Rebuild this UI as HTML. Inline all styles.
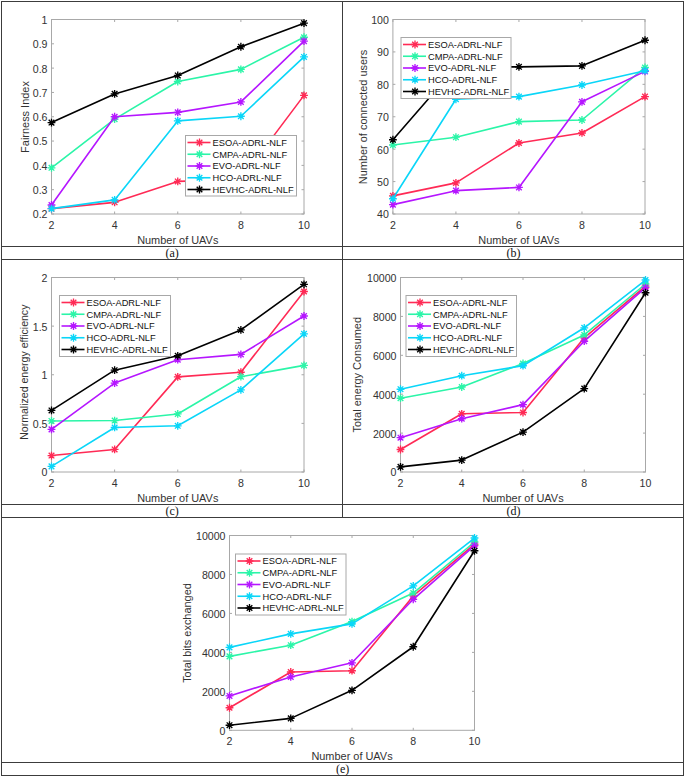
<!DOCTYPE html>
<html><head><meta charset="utf-8"><title>Figure</title>
<style>
html,body{margin:0;padding:0;background:#fff;}
body{width:685px;height:777px;overflow:hidden;}
svg{display:block;}
svg text{font-family:"Liberation Sans",sans-serif;}
</style></head><body>
<svg width="685" height="777" viewBox="0 0 685 777">
<path d="M1 1.5H684" stroke="#3c3c3c" stroke-width="1"/>
<path d="M1 246.5H684" stroke="#3c3c3c" stroke-width="1"/>
<path d="M1 259.5H684" stroke="#3c3c3c" stroke-width="1"/>
<path d="M1 504.5H684" stroke="#3c3c3c" stroke-width="1"/>
<path d="M1 517.5H684" stroke="#3c3c3c" stroke-width="1"/>
<path d="M1 762.5H684" stroke="#3c3c3c" stroke-width="1"/>
<path d="M1 775.5H684" stroke="#3c3c3c" stroke-width="1"/>
<path d="M1.5 1V776" stroke="#3c3c3c" stroke-width="1"/>
<path d="M683.5 1V776" stroke="#3c3c3c" stroke-width="1"/>
<path d="M342.5 1V517.5" stroke="#3c3c3c" stroke-width="1"/>
<text x="172.1" y="256.9" text-anchor="middle" style="font-family:'Liberation Serif',serif" font-size="12" fill="#111">(a)</text>
<text x="513.4" y="256.9" text-anchor="middle" style="font-family:'Liberation Serif',serif" font-size="12" fill="#111">(b)</text>
<text x="172.1" y="514.9" text-anchor="middle" style="font-family:'Liberation Serif',serif" font-size="12" fill="#111">(c)</text>
<text x="513.4" y="514.9" text-anchor="middle" style="font-family:'Liberation Serif',serif" font-size="12" fill="#111">(d)</text>
<text x="342.6" y="772.9" text-anchor="middle" style="font-family:'Liberation Serif',serif" font-size="12" fill="#111">(e)</text>
<rect x="51.5" y="19.5" width="252.5" height="194.5" fill="none" stroke="#a8a8a8" stroke-width="1"/>
<path d="M51.5 214v-2.5M51.5 19.5v2.5" stroke="#a8a8a8" stroke-width="1"/>
<text x="51.5" y="229" text-anchor="middle" font-size="10.6" fill="#333333">2</text>
<path d="M114.62 214v-2.5M114.62 19.5v2.5" stroke="#a8a8a8" stroke-width="1"/>
<text x="114.62" y="229" text-anchor="middle" font-size="10.6" fill="#333333">4</text>
<path d="M177.75 214v-2.5M177.75 19.5v2.5" stroke="#a8a8a8" stroke-width="1"/>
<text x="177.75" y="229" text-anchor="middle" font-size="10.6" fill="#333333">6</text>
<path d="M240.88 214v-2.5M240.88 19.5v2.5" stroke="#a8a8a8" stroke-width="1"/>
<text x="240.88" y="229" text-anchor="middle" font-size="10.6" fill="#333333">8</text>
<path d="M304 214v-2.5M304 19.5v2.5" stroke="#a8a8a8" stroke-width="1"/>
<text x="304" y="229" text-anchor="middle" font-size="10.6" fill="#333333">10</text>
<path d="M51.5 214h2.5M304 214h-2.5" stroke="#a8a8a8" stroke-width="1"/>
<text x="47.5" y="218.4" text-anchor="end" font-size="10.6" fill="#333333">0.2</text>
<path d="M51.5 189.69h2.5M304 189.69h-2.5" stroke="#a8a8a8" stroke-width="1"/>
<text x="47.5" y="194.09" text-anchor="end" font-size="10.6" fill="#333333">0.3</text>
<path d="M51.5 165.38h2.5M304 165.38h-2.5" stroke="#a8a8a8" stroke-width="1"/>
<text x="47.5" y="169.78" text-anchor="end" font-size="10.6" fill="#333333">0.4</text>
<path d="M51.5 141.06h2.5M304 141.06h-2.5" stroke="#a8a8a8" stroke-width="1"/>
<text x="47.5" y="145.46" text-anchor="end" font-size="10.6" fill="#333333">0.5</text>
<path d="M51.5 116.75h2.5M304 116.75h-2.5" stroke="#a8a8a8" stroke-width="1"/>
<text x="47.5" y="121.15" text-anchor="end" font-size="10.6" fill="#333333">0.6</text>
<path d="M51.5 92.44h2.5M304 92.44h-2.5" stroke="#a8a8a8" stroke-width="1"/>
<text x="47.5" y="96.84" text-anchor="end" font-size="10.6" fill="#333333">0.7</text>
<path d="M51.5 68.12h2.5M304 68.12h-2.5" stroke="#a8a8a8" stroke-width="1"/>
<text x="47.5" y="72.52" text-anchor="end" font-size="10.6" fill="#333333">0.8</text>
<path d="M51.5 43.81h2.5M304 43.81h-2.5" stroke="#a8a8a8" stroke-width="1"/>
<text x="47.5" y="48.21" text-anchor="end" font-size="10.6" fill="#333333">0.9</text>
<path d="M51.5 19.5h2.5M304 19.5h-2.5" stroke="#a8a8a8" stroke-width="1"/>
<text x="47.5" y="23.9" text-anchor="end" font-size="10.6" fill="#333333">1</text>
<text x="177.75" y="243.5" text-anchor="middle" font-size="10.95" fill="#333333">Number of UAVs</text>
<text transform="translate(28.5 117) rotate(-90)" text-anchor="middle" font-size="10.95" fill="#333333">Fairness Index</text>
<polyline points="51.5,208.65 114.62,202.33 177.75,181.42 240.88,179.48 304,95.36" fill="none" stroke="#ff2a55" stroke-width="1.6" stroke-linejoin="round"/>
<path d="M47.6 208.65h7.8M51.5 204.75v7.8M48.69 205.84l5.62 5.62M48.69 211.46l5.62 -5.62" stroke="#ff2a55" stroke-width="1.35" fill="none"/>
<path d="M110.72 202.33h7.8M114.62 198.43v7.8M111.82 199.52l5.62 5.62M111.82 205.14l5.62 -5.62" stroke="#ff2a55" stroke-width="1.35" fill="none"/>
<path d="M173.85 181.42h7.8M177.75 177.52v7.8M174.94 178.61l5.62 5.62M174.94 184.23l5.62 -5.62" stroke="#ff2a55" stroke-width="1.35" fill="none"/>
<path d="M236.97 179.48h7.8M240.88 175.58v7.8M238.07 176.67l5.62 5.62M238.07 182.28l5.62 -5.62" stroke="#ff2a55" stroke-width="1.35" fill="none"/>
<path d="M300.1 95.36h7.8M304 91.46v7.8M301.19 92.55l5.62 5.62M301.19 98.16l5.62 -5.62" stroke="#ff2a55" stroke-width="1.35" fill="none"/>
<polyline points="51.5,167.81 114.62,119.18 177.75,81.5 240.88,69.34 304,37.25" fill="none" stroke="#2bf5a8" stroke-width="1.6" stroke-linejoin="round"/>
<path d="M47.6 167.81h7.8M51.5 163.91v7.8M48.69 165l5.62 5.62M48.69 170.61l5.62 -5.62" stroke="#2bf5a8" stroke-width="1.35" fill="none"/>
<path d="M110.72 119.18h7.8M114.62 115.28v7.8M111.82 116.37l5.62 5.62M111.82 121.99l5.62 -5.62" stroke="#2bf5a8" stroke-width="1.35" fill="none"/>
<path d="M173.85 81.5h7.8M177.75 77.6v7.8M174.94 78.69l5.62 5.62M174.94 84.3l5.62 -5.62" stroke="#2bf5a8" stroke-width="1.35" fill="none"/>
<path d="M236.97 69.34h7.8M240.88 65.44v7.8M238.07 66.53l5.62 5.62M238.07 72.15l5.62 -5.62" stroke="#2bf5a8" stroke-width="1.35" fill="none"/>
<path d="M300.1 37.25h7.8M304 33.35v7.8M301.19 34.44l5.62 5.62M301.19 40.06l5.62 -5.62" stroke="#2bf5a8" stroke-width="1.35" fill="none"/>
<polyline points="51.5,205 114.62,116.75 177.75,112.37 240.88,101.92 304,41.14" fill="none" stroke="#b516ff" stroke-width="1.6" stroke-linejoin="round"/>
<path d="M47.6 205h7.8M51.5 201.1v7.8M48.69 202.2l5.62 5.62M48.69 207.81l5.62 -5.62" stroke="#b516ff" stroke-width="1.35" fill="none"/>
<path d="M110.72 116.75h7.8M114.62 112.85v7.8M111.82 113.94l5.62 5.62M111.82 119.56l5.62 -5.62" stroke="#b516ff" stroke-width="1.35" fill="none"/>
<path d="M173.85 112.37h7.8M177.75 108.47v7.8M174.94 109.57l5.62 5.62M174.94 115.18l5.62 -5.62" stroke="#b516ff" stroke-width="1.35" fill="none"/>
<path d="M236.97 101.92h7.8M240.88 98.02v7.8M238.07 99.11l5.62 5.62M238.07 104.73l5.62 -5.62" stroke="#b516ff" stroke-width="1.35" fill="none"/>
<path d="M300.1 41.14h7.8M304 37.24v7.8M301.19 38.33l5.62 5.62M301.19 43.95l5.62 -5.62" stroke="#b516ff" stroke-width="1.35" fill="none"/>
<polyline points="51.5,208.65 114.62,199.9 177.75,120.88 240.88,116.26 304,56.94" fill="none" stroke="#0ad6f8" stroke-width="1.6" stroke-linejoin="round"/>
<path d="M47.6 208.65h7.8M51.5 204.75v7.8M48.69 205.84l5.62 5.62M48.69 211.46l5.62 -5.62" stroke="#0ad6f8" stroke-width="1.35" fill="none"/>
<path d="M110.72 199.9h7.8M114.62 196v7.8M111.82 197.09l5.62 5.62M111.82 202.71l5.62 -5.62" stroke="#0ad6f8" stroke-width="1.35" fill="none"/>
<path d="M173.85 120.88h7.8M177.75 116.98v7.8M174.94 118.08l5.62 5.62M174.94 123.69l5.62 -5.62" stroke="#0ad6f8" stroke-width="1.35" fill="none"/>
<path d="M236.97 116.26h7.8M240.88 112.36v7.8M238.07 113.46l5.62 5.62M238.07 119.07l5.62 -5.62" stroke="#0ad6f8" stroke-width="1.35" fill="none"/>
<path d="M300.1 56.94h7.8M304 53.04v7.8M301.19 54.13l5.62 5.62M301.19 59.75l5.62 -5.62" stroke="#0ad6f8" stroke-width="1.35" fill="none"/>
<polyline points="51.5,122.59 114.62,93.9 177.75,75.42 240.88,46.73 304,23.15" fill="none" stroke="#000000" stroke-width="1.6" stroke-linejoin="round"/>
<path d="M47.6 122.59h7.8M51.5 118.69v7.8M48.69 119.78l5.62 5.62M48.69 125.39l5.62 -5.62" stroke="#000000" stroke-width="1.35" fill="none"/>
<path d="M110.72 93.9h7.8M114.62 90v7.8M111.82 91.09l5.62 5.62M111.82 96.7l5.62 -5.62" stroke="#000000" stroke-width="1.35" fill="none"/>
<path d="M173.85 75.42h7.8M177.75 71.52v7.8M174.94 72.61l5.62 5.62M174.94 78.23l5.62 -5.62" stroke="#000000" stroke-width="1.35" fill="none"/>
<path d="M236.97 46.73h7.8M240.88 42.83v7.8M238.07 43.92l5.62 5.62M238.07 49.54l5.62 -5.62" stroke="#000000" stroke-width="1.35" fill="none"/>
<path d="M300.1 23.15h7.8M304 19.25v7.8M301.19 20.34l5.62 5.62M301.19 25.95l5.62 -5.62" stroke="#000000" stroke-width="1.35" fill="none"/>
<rect x="185.5" y="135.5" width="111" height="60.5" fill="#fff" stroke="#a8a8a8" stroke-width="1"/>
<path d="M187.5 142.5h23.0" stroke="#ff2a55" stroke-width="1.6"/>
<path d="M195.6 142.5h7.8M199.5 138.6v7.8M196.69 139.69l5.62 5.62M196.69 145.31l5.62 -5.62" stroke="#ff2a55" stroke-width="1.35" fill="none"/>
<text x="212.5" y="145.9" font-size="9.3" fill="#111">ESOA-ADRL-NLF</text>
<path d="M187.5 154.25h23.0" stroke="#2bf5a8" stroke-width="1.6"/>
<path d="M195.6 154.25h7.8M199.5 150.35v7.8M196.69 151.44l5.62 5.62M196.69 157.06l5.62 -5.62" stroke="#2bf5a8" stroke-width="1.35" fill="none"/>
<text x="212.5" y="157.65" font-size="9.3" fill="#111">CMPA-ADRL-NLF</text>
<path d="M187.5 166h23.0" stroke="#b516ff" stroke-width="1.6"/>
<path d="M195.6 166h7.8M199.5 162.1v7.8M196.69 163.19l5.62 5.62M196.69 168.81l5.62 -5.62" stroke="#b516ff" stroke-width="1.35" fill="none"/>
<text x="212.5" y="169.4" font-size="9.3" fill="#111">EVO-ADRL-NLF</text>
<path d="M187.5 177.75h23.0" stroke="#0ad6f8" stroke-width="1.6"/>
<path d="M195.6 177.75h7.8M199.5 173.85v7.8M196.69 174.94l5.62 5.62M196.69 180.56l5.62 -5.62" stroke="#0ad6f8" stroke-width="1.35" fill="none"/>
<text x="212.5" y="181.15" font-size="9.3" fill="#111">HCO-ADRL-NLF</text>
<path d="M187.5 189.5h23.0" stroke="#000000" stroke-width="1.6"/>
<path d="M195.6 189.5h7.8M199.5 185.6v7.8M196.69 186.69l5.62 5.62M196.69 192.31l5.62 -5.62" stroke="#000000" stroke-width="1.35" fill="none"/>
<text x="212.5" y="192.9" font-size="9.3" fill="#111">HEVHC-ADRL-NLF</text>
<rect x="392.9" y="19.5" width="252.1" height="194.5" fill="none" stroke="#a8a8a8" stroke-width="1"/>
<path d="M392.9 214v-2.5M392.9 19.5v2.5" stroke="#a8a8a8" stroke-width="1"/>
<text x="392.9" y="229" text-anchor="middle" font-size="10.6" fill="#333333">2</text>
<path d="M455.92 214v-2.5M455.92 19.5v2.5" stroke="#a8a8a8" stroke-width="1"/>
<text x="455.92" y="229" text-anchor="middle" font-size="10.6" fill="#333333">4</text>
<path d="M518.95 214v-2.5M518.95 19.5v2.5" stroke="#a8a8a8" stroke-width="1"/>
<text x="518.95" y="229" text-anchor="middle" font-size="10.6" fill="#333333">6</text>
<path d="M581.98 214v-2.5M581.98 19.5v2.5" stroke="#a8a8a8" stroke-width="1"/>
<text x="581.98" y="229" text-anchor="middle" font-size="10.6" fill="#333333">8</text>
<path d="M645 214v-2.5M645 19.5v2.5" stroke="#a8a8a8" stroke-width="1"/>
<text x="645" y="229" text-anchor="middle" font-size="10.6" fill="#333333">10</text>
<path d="M392.9 214h2.5M645 214h-2.5" stroke="#a8a8a8" stroke-width="1"/>
<text x="388.9" y="218.4" text-anchor="end" font-size="10.6" fill="#333333">40</text>
<path d="M392.9 181.58h2.5M645 181.58h-2.5" stroke="#a8a8a8" stroke-width="1"/>
<text x="388.9" y="185.98" text-anchor="end" font-size="10.6" fill="#333333">50</text>
<path d="M392.9 149.17h2.5M645 149.17h-2.5" stroke="#a8a8a8" stroke-width="1"/>
<text x="388.9" y="153.57" text-anchor="end" font-size="10.6" fill="#333333">60</text>
<path d="M392.9 116.75h2.5M645 116.75h-2.5" stroke="#a8a8a8" stroke-width="1"/>
<text x="388.9" y="121.15" text-anchor="end" font-size="10.6" fill="#333333">70</text>
<path d="M392.9 84.33h2.5M645 84.33h-2.5" stroke="#a8a8a8" stroke-width="1"/>
<text x="388.9" y="88.73" text-anchor="end" font-size="10.6" fill="#333333">80</text>
<path d="M392.9 51.92h2.5M645 51.92h-2.5" stroke="#a8a8a8" stroke-width="1"/>
<text x="388.9" y="56.32" text-anchor="end" font-size="10.6" fill="#333333">90</text>
<path d="M392.9 19.5h2.5M645 19.5h-2.5" stroke="#a8a8a8" stroke-width="1"/>
<text x="388.9" y="23.9" text-anchor="end" font-size="10.6" fill="#333333">100</text>
<text x="518.95" y="243.5" text-anchor="middle" font-size="10.95" fill="#333333">Number of UAVs</text>
<text transform="translate(366.8 117) rotate(-90)" text-anchor="middle" font-size="10.95" fill="#333333">Number of connected users</text>
<polyline points="392.9,195.85 455.92,182.88 518.95,143.01 581.98,132.96 645,96.65" fill="none" stroke="#ff2a55" stroke-width="1.6" stroke-linejoin="round"/>
<path d="M389 195.85h7.8M392.9 191.95v7.8M390.09 193.04l5.62 5.62M390.09 198.65l5.62 -5.62" stroke="#ff2a55" stroke-width="1.35" fill="none"/>
<path d="M452.02 182.88h7.8M455.92 178.98v7.8M453.12 180.07l5.62 5.62M453.12 185.69l5.62 -5.62" stroke="#ff2a55" stroke-width="1.35" fill="none"/>
<path d="M515.05 143.01h7.8M518.95 139.11v7.8M516.14 140.2l5.62 5.62M516.14 145.82l5.62 -5.62" stroke="#ff2a55" stroke-width="1.35" fill="none"/>
<path d="M578.08 132.96h7.8M581.98 129.06v7.8M579.17 130.15l5.62 5.62M579.17 135.77l5.62 -5.62" stroke="#ff2a55" stroke-width="1.35" fill="none"/>
<path d="M641.1 96.65h7.8M645 92.75v7.8M642.19 93.84l5.62 5.62M642.19 99.46l5.62 -5.62" stroke="#ff2a55" stroke-width="1.35" fill="none"/>
<polyline points="392.9,144.95 455.92,137.17 518.95,121.61 581.98,119.99 645,67.48" fill="none" stroke="#2bf5a8" stroke-width="1.6" stroke-linejoin="round"/>
<path d="M389 144.95h7.8M392.9 141.05v7.8M390.09 142.14l5.62 5.62M390.09 147.76l5.62 -5.62" stroke="#2bf5a8" stroke-width="1.35" fill="none"/>
<path d="M452.02 137.17h7.8M455.92 133.27v7.8M453.12 134.36l5.62 5.62M453.12 139.98l5.62 -5.62" stroke="#2bf5a8" stroke-width="1.35" fill="none"/>
<path d="M515.05 121.61h7.8M518.95 117.71v7.8M516.14 118.8l5.62 5.62M516.14 124.42l5.62 -5.62" stroke="#2bf5a8" stroke-width="1.35" fill="none"/>
<path d="M578.08 119.99h7.8M581.98 116.09v7.8M579.17 117.18l5.62 5.62M579.17 122.8l5.62 -5.62" stroke="#2bf5a8" stroke-width="1.35" fill="none"/>
<path d="M641.1 67.48h7.8M645 63.58v7.8M642.19 64.67l5.62 5.62M642.19 70.28l5.62 -5.62" stroke="#2bf5a8" stroke-width="1.35" fill="none"/>
<polyline points="392.9,204.6 455.92,190.66 518.95,187.42 581.98,101.84 645,71.37" fill="none" stroke="#b516ff" stroke-width="1.6" stroke-linejoin="round"/>
<path d="M389 204.6h7.8M392.9 200.7v7.8M390.09 201.79l5.62 5.62M390.09 207.41l5.62 -5.62" stroke="#b516ff" stroke-width="1.35" fill="none"/>
<path d="M452.02 190.66h7.8M455.92 186.76v7.8M453.12 187.85l5.62 5.62M453.12 193.47l5.62 -5.62" stroke="#b516ff" stroke-width="1.35" fill="none"/>
<path d="M515.05 187.42h7.8M518.95 183.52v7.8M516.14 184.61l5.62 5.62M516.14 190.23l5.62 -5.62" stroke="#b516ff" stroke-width="1.35" fill="none"/>
<path d="M578.08 101.84h7.8M581.98 97.94v7.8M579.17 99.03l5.62 5.62M579.17 104.65l5.62 -5.62" stroke="#b516ff" stroke-width="1.35" fill="none"/>
<path d="M641.1 71.37h7.8M645 67.47v7.8M642.19 68.56l5.62 5.62M642.19 74.17l5.62 -5.62" stroke="#b516ff" stroke-width="1.35" fill="none"/>
<polyline points="392.9,198.76 455.92,99.24 518.95,96.65 581.98,84.98 645,70.72" fill="none" stroke="#0ad6f8" stroke-width="1.6" stroke-linejoin="round"/>
<path d="M389 198.76h7.8M392.9 194.86v7.8M390.09 195.96l5.62 5.62M390.09 201.57l5.62 -5.62" stroke="#0ad6f8" stroke-width="1.35" fill="none"/>
<path d="M452.02 99.24h7.8M455.92 95.34v7.8M453.12 96.44l5.62 5.62M453.12 102.05l5.62 -5.62" stroke="#0ad6f8" stroke-width="1.35" fill="none"/>
<path d="M515.05 96.65h7.8M518.95 92.75v7.8M516.14 93.84l5.62 5.62M516.14 99.46l5.62 -5.62" stroke="#0ad6f8" stroke-width="1.35" fill="none"/>
<path d="M578.08 84.98h7.8M581.98 81.08v7.8M579.17 82.17l5.62 5.62M579.17 87.79l5.62 -5.62" stroke="#0ad6f8" stroke-width="1.35" fill="none"/>
<path d="M641.1 70.72h7.8M645 66.82v7.8M642.19 67.91l5.62 5.62M642.19 73.53l5.62 -5.62" stroke="#0ad6f8" stroke-width="1.35" fill="none"/>
<polyline points="392.9,139.77 455.92,67.15 518.95,66.83 581.98,65.86 645,40.25" fill="none" stroke="#000000" stroke-width="1.6" stroke-linejoin="round"/>
<path d="M389 139.77h7.8M392.9 135.87v7.8M390.09 136.96l5.62 5.62M390.09 142.57l5.62 -5.62" stroke="#000000" stroke-width="1.35" fill="none"/>
<path d="M452.02 67.15h7.8M455.92 63.25v7.8M453.12 64.34l5.62 5.62M453.12 69.96l5.62 -5.62" stroke="#000000" stroke-width="1.35" fill="none"/>
<path d="M515.05 66.83h7.8M518.95 62.93v7.8M516.14 64.02l5.62 5.62M516.14 69.64l5.62 -5.62" stroke="#000000" stroke-width="1.35" fill="none"/>
<path d="M578.08 65.86h7.8M581.98 61.96v7.8M579.17 63.05l5.62 5.62M579.17 68.66l5.62 -5.62" stroke="#000000" stroke-width="1.35" fill="none"/>
<path d="M641.1 40.25h7.8M645 36.35v7.8M642.19 37.44l5.62 5.62M642.19 43.05l5.62 -5.62" stroke="#000000" stroke-width="1.35" fill="none"/>
<rect x="401" y="37.5" width="110" height="61" fill="#fff" stroke="#a8a8a8" stroke-width="1"/>
<path d="M403 44.5h23.0" stroke="#ff2a55" stroke-width="1.6"/>
<path d="M411.1 44.5h7.8M415 40.6v7.8M412.19 41.69l5.62 5.62M412.19 47.31l5.62 -5.62" stroke="#ff2a55" stroke-width="1.35" fill="none"/>
<text x="428" y="47.9" font-size="9.3" fill="#111">ESOA-ADRL-NLF</text>
<path d="M403 56.25h23.0" stroke="#2bf5a8" stroke-width="1.6"/>
<path d="M411.1 56.25h7.8M415 52.35v7.8M412.19 53.44l5.62 5.62M412.19 59.06l5.62 -5.62" stroke="#2bf5a8" stroke-width="1.35" fill="none"/>
<text x="428" y="59.65" font-size="9.3" fill="#111">CMPA-ADRL-NLF</text>
<path d="M403 68h23.0" stroke="#b516ff" stroke-width="1.6"/>
<path d="M411.1 68h7.8M415 64.1v7.8M412.19 65.19l5.62 5.62M412.19 70.81l5.62 -5.62" stroke="#b516ff" stroke-width="1.35" fill="none"/>
<text x="428" y="71.4" font-size="9.3" fill="#111">EVO-ADRL-NLF</text>
<path d="M403 79.75h23.0" stroke="#0ad6f8" stroke-width="1.6"/>
<path d="M411.1 79.75h7.8M415 75.85v7.8M412.19 76.94l5.62 5.62M412.19 82.56l5.62 -5.62" stroke="#0ad6f8" stroke-width="1.35" fill="none"/>
<text x="428" y="83.15" font-size="9.3" fill="#111">HCO-ADRL-NLF</text>
<path d="M403 91.5h23.0" stroke="#000000" stroke-width="1.6"/>
<path d="M411.1 91.5h7.8M415 87.6v7.8M412.19 88.69l5.62 5.62M412.19 94.31l5.62 -5.62" stroke="#000000" stroke-width="1.35" fill="none"/>
<text x="428" y="94.9" font-size="9.3" fill="#111">HEVHC-ADRL-NLF</text>
<rect x="51.5" y="277.5" width="252.5" height="194.5" fill="none" stroke="#a8a8a8" stroke-width="1"/>
<path d="M51.5 472v-2.5M51.5 277.5v2.5" stroke="#a8a8a8" stroke-width="1"/>
<text x="51.5" y="487" text-anchor="middle" font-size="10.6" fill="#333333">2</text>
<path d="M114.62 472v-2.5M114.62 277.5v2.5" stroke="#a8a8a8" stroke-width="1"/>
<text x="114.62" y="487" text-anchor="middle" font-size="10.6" fill="#333333">4</text>
<path d="M177.75 472v-2.5M177.75 277.5v2.5" stroke="#a8a8a8" stroke-width="1"/>
<text x="177.75" y="487" text-anchor="middle" font-size="10.6" fill="#333333">6</text>
<path d="M240.88 472v-2.5M240.88 277.5v2.5" stroke="#a8a8a8" stroke-width="1"/>
<text x="240.88" y="487" text-anchor="middle" font-size="10.6" fill="#333333">8</text>
<path d="M304 472v-2.5M304 277.5v2.5" stroke="#a8a8a8" stroke-width="1"/>
<text x="304" y="487" text-anchor="middle" font-size="10.6" fill="#333333">10</text>
<path d="M51.5 472h2.5M304 472h-2.5" stroke="#a8a8a8" stroke-width="1"/>
<text x="47.5" y="476.4" text-anchor="end" font-size="10.6" fill="#333333">0</text>
<path d="M51.5 423.38h2.5M304 423.38h-2.5" stroke="#a8a8a8" stroke-width="1"/>
<text x="47.5" y="427.77" text-anchor="end" font-size="10.6" fill="#333333">0.5</text>
<path d="M51.5 374.75h2.5M304 374.75h-2.5" stroke="#a8a8a8" stroke-width="1"/>
<text x="47.5" y="379.15" text-anchor="end" font-size="10.6" fill="#333333">1</text>
<path d="M51.5 326.12h2.5M304 326.12h-2.5" stroke="#a8a8a8" stroke-width="1"/>
<text x="47.5" y="330.52" text-anchor="end" font-size="10.6" fill="#333333">1.5</text>
<path d="M51.5 277.5h2.5M304 277.5h-2.5" stroke="#a8a8a8" stroke-width="1"/>
<text x="47.5" y="281.9" text-anchor="end" font-size="10.6" fill="#333333">2</text>
<text x="177.75" y="501.5" text-anchor="middle" font-size="10.95" fill="#333333">Number of UAVs</text>
<text transform="translate(27.8 372.2) rotate(-90)" text-anchor="middle" font-size="10.55" fill="#333333">Normalized energy efficiency</text>
<polyline points="51.5,455.56 114.62,449.44 177.75,376.89 240.88,372.22 304,291.5" fill="none" stroke="#ff2a55" stroke-width="1.6" stroke-linejoin="round"/>
<path d="M47.6 455.56h7.8M51.5 451.66v7.8M48.69 452.76l5.62 5.62M48.69 458.37l5.62 -5.62" stroke="#ff2a55" stroke-width="1.35" fill="none"/>
<path d="M110.72 449.44h7.8M114.62 445.54v7.8M111.82 446.63l5.62 5.62M111.82 452.25l5.62 -5.62" stroke="#ff2a55" stroke-width="1.35" fill="none"/>
<path d="M173.85 376.89h7.8M177.75 372.99v7.8M174.94 374.08l5.62 5.62M174.94 379.7l5.62 -5.62" stroke="#ff2a55" stroke-width="1.35" fill="none"/>
<path d="M236.97 372.22h7.8M240.88 368.32v7.8M238.07 369.41l5.62 5.62M238.07 375.03l5.62 -5.62" stroke="#ff2a55" stroke-width="1.35" fill="none"/>
<path d="M300.1 291.5h7.8M304 287.6v7.8M301.19 288.7l5.62 5.62M301.19 294.31l5.62 -5.62" stroke="#ff2a55" stroke-width="1.35" fill="none"/>
<polyline points="51.5,420.94 114.62,420.55 177.75,413.94 240.88,376.69 304,365.41" fill="none" stroke="#2bf5a8" stroke-width="1.6" stroke-linejoin="round"/>
<path d="M47.6 420.94h7.8M51.5 417.04v7.8M48.69 418.14l5.62 5.62M48.69 423.75l5.62 -5.62" stroke="#2bf5a8" stroke-width="1.35" fill="none"/>
<path d="M110.72 420.55h7.8M114.62 416.65v7.8M111.82 417.75l5.62 5.62M111.82 423.36l5.62 -5.62" stroke="#2bf5a8" stroke-width="1.35" fill="none"/>
<path d="M173.85 413.94h7.8M177.75 410.04v7.8M174.94 411.13l5.62 5.62M174.94 416.75l5.62 -5.62" stroke="#2bf5a8" stroke-width="1.35" fill="none"/>
<path d="M236.97 376.69h7.8M240.88 372.8v7.8M238.07 373.89l5.62 5.62M238.07 379.5l5.62 -5.62" stroke="#2bf5a8" stroke-width="1.35" fill="none"/>
<path d="M300.1 365.41h7.8M304 361.51v7.8M301.19 362.61l5.62 5.62M301.19 368.22l5.62 -5.62" stroke="#2bf5a8" stroke-width="1.35" fill="none"/>
<polyline points="51.5,429.4 114.62,383.11 177.75,359.68 240.88,354.42 304,316.01" fill="none" stroke="#b516ff" stroke-width="1.6" stroke-linejoin="round"/>
<path d="M47.6 429.4h7.8M51.5 425.5v7.8M48.69 426.6l5.62 5.62M48.69 432.21l5.62 -5.62" stroke="#b516ff" stroke-width="1.35" fill="none"/>
<path d="M110.72 383.11h7.8M114.62 379.21v7.8M111.82 380.31l5.62 5.62M111.82 385.92l5.62 -5.62" stroke="#b516ff" stroke-width="1.35" fill="none"/>
<path d="M173.85 359.68h7.8M177.75 355.78v7.8M174.94 356.87l5.62 5.62M174.94 362.48l5.62 -5.62" stroke="#b516ff" stroke-width="1.35" fill="none"/>
<path d="M236.97 354.42h7.8M240.88 350.52v7.8M238.07 351.62l5.62 5.62M238.07 357.23l5.62 -5.62" stroke="#b516ff" stroke-width="1.35" fill="none"/>
<path d="M300.1 316.01h7.8M304 312.11v7.8M301.19 313.2l5.62 5.62M301.19 318.82l5.62 -5.62" stroke="#b516ff" stroke-width="1.35" fill="none"/>
<polyline points="51.5,466.36 114.62,427.46 177.75,425.81 240.88,389.82 304,333.81" fill="none" stroke="#0ad6f8" stroke-width="1.6" stroke-linejoin="round"/>
<path d="M47.6 466.36h7.8M51.5 462.46v7.8M48.69 463.55l5.62 5.62M48.69 469.17l5.62 -5.62" stroke="#0ad6f8" stroke-width="1.35" fill="none"/>
<path d="M110.72 427.46h7.8M114.62 423.56v7.8M111.82 424.65l5.62 5.62M111.82 430.27l5.62 -5.62" stroke="#0ad6f8" stroke-width="1.35" fill="none"/>
<path d="M173.85 425.81h7.8M177.75 421.91v7.8M174.94 423l5.62 5.62M174.94 428.61l5.62 -5.62" stroke="#0ad6f8" stroke-width="1.35" fill="none"/>
<path d="M236.97 389.82h7.8M240.88 385.92v7.8M238.07 387.02l5.62 5.62M238.07 392.63l5.62 -5.62" stroke="#0ad6f8" stroke-width="1.35" fill="none"/>
<path d="M300.1 333.81h7.8M304 329.91v7.8M301.19 331l5.62 5.62M301.19 336.62l5.62 -5.62" stroke="#0ad6f8" stroke-width="1.35" fill="none"/>
<polyline points="51.5,410.44 114.62,370.18 177.75,355.79 240.88,329.92 304,284.31" fill="none" stroke="#000000" stroke-width="1.6" stroke-linejoin="round"/>
<path d="M47.6 410.44h7.8M51.5 406.54v7.8M48.69 407.63l5.62 5.62M48.69 413.25l5.62 -5.62" stroke="#000000" stroke-width="1.35" fill="none"/>
<path d="M110.72 370.18h7.8M114.62 366.28v7.8M111.82 367.37l5.62 5.62M111.82 372.99l5.62 -5.62" stroke="#000000" stroke-width="1.35" fill="none"/>
<path d="M173.85 355.79h7.8M177.75 351.89v7.8M174.94 352.98l5.62 5.62M174.94 358.59l5.62 -5.62" stroke="#000000" stroke-width="1.35" fill="none"/>
<path d="M236.97 329.92h7.8M240.88 326.02v7.8M238.07 327.11l5.62 5.62M238.07 332.73l5.62 -5.62" stroke="#000000" stroke-width="1.35" fill="none"/>
<path d="M300.1 284.31h7.8M304 280.41v7.8M301.19 281.5l5.62 5.62M301.19 287.12l5.62 -5.62" stroke="#000000" stroke-width="1.35" fill="none"/>
<rect x="59.5" y="295.5" width="111" height="61" fill="#fff" stroke="#a8a8a8" stroke-width="1"/>
<path d="M61.5 302.5h23.0" stroke="#ff2a55" stroke-width="1.6"/>
<path d="M69.6 302.5h7.8M73.5 298.6v7.8M70.69 299.69l5.62 5.62M70.69 305.31l5.62 -5.62" stroke="#ff2a55" stroke-width="1.35" fill="none"/>
<text x="86.5" y="305.9" font-size="9.3" fill="#111">ESOA-ADRL-NLF</text>
<path d="M61.5 314.25h23.0" stroke="#2bf5a8" stroke-width="1.6"/>
<path d="M69.6 314.25h7.8M73.5 310.35v7.8M70.69 311.44l5.62 5.62M70.69 317.06l5.62 -5.62" stroke="#2bf5a8" stroke-width="1.35" fill="none"/>
<text x="86.5" y="317.65" font-size="9.3" fill="#111">CMPA-ADRL-NLF</text>
<path d="M61.5 326h23.0" stroke="#b516ff" stroke-width="1.6"/>
<path d="M69.6 326h7.8M73.5 322.1v7.8M70.69 323.19l5.62 5.62M70.69 328.81l5.62 -5.62" stroke="#b516ff" stroke-width="1.35" fill="none"/>
<text x="86.5" y="329.4" font-size="9.3" fill="#111">EVO-ADRL-NLF</text>
<path d="M61.5 337.75h23.0" stroke="#0ad6f8" stroke-width="1.6"/>
<path d="M69.6 337.75h7.8M73.5 333.85v7.8M70.69 334.94l5.62 5.62M70.69 340.56l5.62 -5.62" stroke="#0ad6f8" stroke-width="1.35" fill="none"/>
<text x="86.5" y="341.15" font-size="9.3" fill="#111">HCO-ADRL-NLF</text>
<path d="M61.5 349.5h23.0" stroke="#000000" stroke-width="1.6"/>
<path d="M69.6 349.5h7.8M73.5 345.6v7.8M70.69 346.69l5.62 5.62M70.69 352.31l5.62 -5.62" stroke="#000000" stroke-width="1.35" fill="none"/>
<text x="86.5" y="352.9" font-size="9.3" fill="#111">HEVHC-ADRL-NLF</text>
<rect x="400.5" y="277.5" width="245" height="194.5" fill="none" stroke="#a8a8a8" stroke-width="1"/>
<path d="M400.5 472v-2.5M400.5 277.5v2.5" stroke="#a8a8a8" stroke-width="1"/>
<text x="400.5" y="487" text-anchor="middle" font-size="10.6" fill="#333333">2</text>
<path d="M461.75 472v-2.5M461.75 277.5v2.5" stroke="#a8a8a8" stroke-width="1"/>
<text x="461.75" y="487" text-anchor="middle" font-size="10.6" fill="#333333">4</text>
<path d="M523 472v-2.5M523 277.5v2.5" stroke="#a8a8a8" stroke-width="1"/>
<text x="523" y="487" text-anchor="middle" font-size="10.6" fill="#333333">6</text>
<path d="M584.25 472v-2.5M584.25 277.5v2.5" stroke="#a8a8a8" stroke-width="1"/>
<text x="584.25" y="487" text-anchor="middle" font-size="10.6" fill="#333333">8</text>
<path d="M645.5 472v-2.5M645.5 277.5v2.5" stroke="#a8a8a8" stroke-width="1"/>
<text x="645.5" y="487" text-anchor="middle" font-size="10.6" fill="#333333">10</text>
<path d="M400.5 472h2.5M645.5 472h-2.5" stroke="#a8a8a8" stroke-width="1"/>
<text x="396.5" y="476.4" text-anchor="end" font-size="10.6" fill="#333333">0</text>
<path d="M400.5 433.1h2.5M645.5 433.1h-2.5" stroke="#a8a8a8" stroke-width="1"/>
<text x="396.5" y="437.5" text-anchor="end" font-size="10.6" fill="#333333">2000</text>
<path d="M400.5 394.2h2.5M645.5 394.2h-2.5" stroke="#a8a8a8" stroke-width="1"/>
<text x="396.5" y="398.6" text-anchor="end" font-size="10.6" fill="#333333">4000</text>
<path d="M400.5 355.3h2.5M645.5 355.3h-2.5" stroke="#a8a8a8" stroke-width="1"/>
<text x="396.5" y="359.7" text-anchor="end" font-size="10.6" fill="#333333">6000</text>
<path d="M400.5 316.4h2.5M645.5 316.4h-2.5" stroke="#a8a8a8" stroke-width="1"/>
<text x="396.5" y="320.8" text-anchor="end" font-size="10.6" fill="#333333">8000</text>
<path d="M400.5 277.5h2.5M645.5 277.5h-2.5" stroke="#a8a8a8" stroke-width="1"/>
<text x="396.5" y="281.9" text-anchor="end" font-size="10.6" fill="#333333">10000</text>
<text x="523" y="501.5" text-anchor="middle" font-size="10.95" fill="#333333">Number of UAVs</text>
<text transform="translate(361.3 374.75) rotate(-90)" text-anchor="middle" font-size="10.95" fill="#333333">Total energy Consumed</text>
<polyline points="400.5,449.5 461.75,413.81 523,412.5 584.25,337.8 645.5,286.19" fill="none" stroke="#ff2a55" stroke-width="1.6" stroke-linejoin="round"/>
<path d="M396.6 449.5h7.8M400.5 445.6v7.8M397.69 446.69l5.62 5.62M397.69 452.3l5.62 -5.62" stroke="#ff2a55" stroke-width="1.35" fill="none"/>
<path d="M457.85 413.81h7.8M461.75 409.91v7.8M458.94 411l5.62 5.62M458.94 416.61l5.62 -5.62" stroke="#ff2a55" stroke-width="1.35" fill="none"/>
<path d="M519.1 412.5h7.8M523 408.6v7.8M520.19 409.69l5.62 5.62M520.19 415.31l5.62 -5.62" stroke="#ff2a55" stroke-width="1.35" fill="none"/>
<path d="M580.35 337.8h7.8M584.25 333.9v7.8M581.44 334.99l5.62 5.62M581.44 340.6l5.62 -5.62" stroke="#ff2a55" stroke-width="1.35" fill="none"/>
<path d="M641.6 286.19h7.8M645.5 282.29v7.8M642.69 283.39l5.62 5.62M642.69 289l5.62 -5.62" stroke="#ff2a55" stroke-width="1.35" fill="none"/>
<polyline points="400.5,398.21 461.75,387 523,363.47 584.25,334.97 645.5,284" fill="none" stroke="#2bf5a8" stroke-width="1.6" stroke-linejoin="round"/>
<path d="M396.6 398.21h7.8M400.5 394.31v7.8M397.69 395.4l5.62 5.62M397.69 401.01l5.62 -5.62" stroke="#2bf5a8" stroke-width="1.35" fill="none"/>
<path d="M457.85 387h7.8M461.75 383.1v7.8M458.94 384.2l5.62 5.62M458.94 389.81l5.62 -5.62" stroke="#2bf5a8" stroke-width="1.35" fill="none"/>
<path d="M519.1 363.47h7.8M523 359.57v7.8M520.19 360.66l5.62 5.62M520.19 366.28l5.62 -5.62" stroke="#2bf5a8" stroke-width="1.35" fill="none"/>
<path d="M580.35 334.97h7.8M584.25 331.07v7.8M581.44 332.17l5.62 5.62M581.44 337.78l5.62 -5.62" stroke="#2bf5a8" stroke-width="1.35" fill="none"/>
<path d="M641.6 284h7.8M645.5 280.1v7.8M642.69 281.19l5.62 5.62M642.69 286.8l5.62 -5.62" stroke="#2bf5a8" stroke-width="1.35" fill="none"/>
<polyline points="400.5,437.69 461.75,418.71 523,404.61 584.25,341.2 645.5,287.59" fill="none" stroke="#b516ff" stroke-width="1.6" stroke-linejoin="round"/>
<path d="M396.6 437.69h7.8M400.5 433.79v7.8M397.69 434.88l5.62 5.62M397.69 440.5l5.62 -5.62" stroke="#b516ff" stroke-width="1.35" fill="none"/>
<path d="M457.85 418.71h7.8M461.75 414.81v7.8M458.94 415.9l5.62 5.62M458.94 421.51l5.62 -5.62" stroke="#b516ff" stroke-width="1.35" fill="none"/>
<path d="M519.1 404.61h7.8M523 400.71v7.8M520.19 401.8l5.62 5.62M520.19 407.41l5.62 -5.62" stroke="#b516ff" stroke-width="1.35" fill="none"/>
<path d="M580.35 341.2h7.8M584.25 337.3v7.8M581.44 338.39l5.62 5.62M581.44 344.01l5.62 -5.62" stroke="#b516ff" stroke-width="1.35" fill="none"/>
<path d="M641.6 287.59h7.8M645.5 283.69v7.8M642.69 284.79l5.62 5.62M642.69 290.4l5.62 -5.62" stroke="#b516ff" stroke-width="1.35" fill="none"/>
<polyline points="400.5,389.2 461.75,375.7 523,365.71 584.25,327.8 645.5,280.01" fill="none" stroke="#0ad6f8" stroke-width="1.6" stroke-linejoin="round"/>
<path d="M396.6 389.2h7.8M400.5 385.3v7.8M397.69 386.39l5.62 5.62M397.69 392.01l5.62 -5.62" stroke="#0ad6f8" stroke-width="1.35" fill="none"/>
<path d="M457.85 375.7h7.8M461.75 371.8v7.8M458.94 372.9l5.62 5.62M458.94 378.51l5.62 -5.62" stroke="#0ad6f8" stroke-width="1.35" fill="none"/>
<path d="M519.1 365.71h7.8M523 361.81v7.8M520.19 362.9l5.62 5.62M520.19 368.51l5.62 -5.62" stroke="#0ad6f8" stroke-width="1.35" fill="none"/>
<path d="M580.35 327.8h7.8M584.25 323.9v7.8M581.44 324.99l5.62 5.62M581.44 330.61l5.62 -5.62" stroke="#0ad6f8" stroke-width="1.35" fill="none"/>
<path d="M641.6 280.01h7.8M645.5 276.11v7.8M642.69 277.2l5.62 5.62M642.69 282.82l5.62 -5.62" stroke="#0ad6f8" stroke-width="1.35" fill="none"/>
<polyline points="400.5,466.9 461.75,460.1 523,432.11 584.25,388.6 645.5,292.71" fill="none" stroke="#000000" stroke-width="1.6" stroke-linejoin="round"/>
<path d="M396.6 466.9h7.8M400.5 463v7.8M397.69 464.1l5.62 5.62M397.69 469.71l5.62 -5.62" stroke="#000000" stroke-width="1.35" fill="none"/>
<path d="M457.85 460.1h7.8M461.75 456.2v7.8M458.94 457.29l5.62 5.62M458.94 462.9l5.62 -5.62" stroke="#000000" stroke-width="1.35" fill="none"/>
<path d="M519.1 432.11h7.8M523 428.21v7.8M520.19 429.3l5.62 5.62M520.19 434.92l5.62 -5.62" stroke="#000000" stroke-width="1.35" fill="none"/>
<path d="M580.35 388.6h7.8M584.25 384.7v7.8M581.44 385.79l5.62 5.62M581.44 391.41l5.62 -5.62" stroke="#000000" stroke-width="1.35" fill="none"/>
<path d="M641.6 292.71h7.8M645.5 288.81v7.8M642.69 289.9l5.62 5.62M642.69 295.52l5.62 -5.62" stroke="#000000" stroke-width="1.35" fill="none"/>
<rect x="406" y="295.5" width="110.5" height="61" fill="#fff" stroke="#a8a8a8" stroke-width="1"/>
<path d="M408 302.5h23.0" stroke="#ff2a55" stroke-width="1.6"/>
<path d="M416.1 302.5h7.8M420 298.6v7.8M417.19 299.69l5.62 5.62M417.19 305.31l5.62 -5.62" stroke="#ff2a55" stroke-width="1.35" fill="none"/>
<text x="433" y="305.9" font-size="9.3" fill="#111">ESOA-ADRL-NLF</text>
<path d="M408 314.25h23.0" stroke="#2bf5a8" stroke-width="1.6"/>
<path d="M416.1 314.25h7.8M420 310.35v7.8M417.19 311.44l5.62 5.62M417.19 317.06l5.62 -5.62" stroke="#2bf5a8" stroke-width="1.35" fill="none"/>
<text x="433" y="317.65" font-size="9.3" fill="#111">CMPA-ADRL-NLF</text>
<path d="M408 326h23.0" stroke="#b516ff" stroke-width="1.6"/>
<path d="M416.1 326h7.8M420 322.1v7.8M417.19 323.19l5.62 5.62M417.19 328.81l5.62 -5.62" stroke="#b516ff" stroke-width="1.35" fill="none"/>
<text x="433" y="329.4" font-size="9.3" fill="#111">EVO-ADRL-NLF</text>
<path d="M408 337.75h23.0" stroke="#0ad6f8" stroke-width="1.6"/>
<path d="M416.1 337.75h7.8M420 333.85v7.8M417.19 334.94l5.62 5.62M417.19 340.56l5.62 -5.62" stroke="#0ad6f8" stroke-width="1.35" fill="none"/>
<text x="433" y="341.15" font-size="9.3" fill="#111">HCO-ADRL-NLF</text>
<path d="M408 349.5h23.0" stroke="#000000" stroke-width="1.6"/>
<path d="M416.1 349.5h7.8M420 345.6v7.8M417.19 346.69l5.62 5.62M417.19 352.31l5.62 -5.62" stroke="#000000" stroke-width="1.35" fill="none"/>
<text x="433" y="352.9" font-size="9.3" fill="#111">HEVHC-ADRL-NLF</text>
<rect x="229.5" y="535.5" width="245" height="194.8" fill="none" stroke="#a8a8a8" stroke-width="1"/>
<path d="M229.5 730.3v-2.5M229.5 535.5v2.5" stroke="#a8a8a8" stroke-width="1"/>
<text x="229.5" y="745.3" text-anchor="middle" font-size="10.6" fill="#333333">2</text>
<path d="M290.75 730.3v-2.5M290.75 535.5v2.5" stroke="#a8a8a8" stroke-width="1"/>
<text x="290.75" y="745.3" text-anchor="middle" font-size="10.6" fill="#333333">4</text>
<path d="M352 730.3v-2.5M352 535.5v2.5" stroke="#a8a8a8" stroke-width="1"/>
<text x="352" y="745.3" text-anchor="middle" font-size="10.6" fill="#333333">6</text>
<path d="M413.25 730.3v-2.5M413.25 535.5v2.5" stroke="#a8a8a8" stroke-width="1"/>
<text x="413.25" y="745.3" text-anchor="middle" font-size="10.6" fill="#333333">8</text>
<path d="M474.5 730.3v-2.5M474.5 535.5v2.5" stroke="#a8a8a8" stroke-width="1"/>
<text x="474.5" y="745.3" text-anchor="middle" font-size="10.6" fill="#333333">10</text>
<path d="M229.5 730.3h2.5M474.5 730.3h-2.5" stroke="#a8a8a8" stroke-width="1"/>
<text x="225.5" y="734.7" text-anchor="end" font-size="10.6" fill="#333333">0</text>
<path d="M229.5 691.34h2.5M474.5 691.34h-2.5" stroke="#a8a8a8" stroke-width="1"/>
<text x="225.5" y="695.74" text-anchor="end" font-size="10.6" fill="#333333">2000</text>
<path d="M229.5 652.38h2.5M474.5 652.38h-2.5" stroke="#a8a8a8" stroke-width="1"/>
<text x="225.5" y="656.78" text-anchor="end" font-size="10.6" fill="#333333">4000</text>
<path d="M229.5 613.42h2.5M474.5 613.42h-2.5" stroke="#a8a8a8" stroke-width="1"/>
<text x="225.5" y="617.82" text-anchor="end" font-size="10.6" fill="#333333">6000</text>
<path d="M229.5 574.46h2.5M474.5 574.46h-2.5" stroke="#a8a8a8" stroke-width="1"/>
<text x="225.5" y="578.86" text-anchor="end" font-size="10.6" fill="#333333">8000</text>
<path d="M229.5 535.5h2.5M474.5 535.5h-2.5" stroke="#a8a8a8" stroke-width="1"/>
<text x="225.5" y="539.9" text-anchor="end" font-size="10.6" fill="#333333">10000</text>
<text x="352" y="759.8" text-anchor="middle" font-size="10.95" fill="#333333">Number of UAVs</text>
<text transform="translate(190.7 633) rotate(-90)" text-anchor="middle" font-size="10.95" fill="#333333">Total bits exchanged</text>
<polyline points="229.5,707.76 290.75,672.02 352,670.71 413.25,595.89 474.5,544.21" fill="none" stroke="#ff2a55" stroke-width="1.6" stroke-linejoin="round"/>
<path d="M225.6 707.76h7.8M229.5 703.86v7.8M226.69 704.95l5.62 5.62M226.69 710.57l5.62 -5.62" stroke="#ff2a55" stroke-width="1.35" fill="none"/>
<path d="M286.85 672.02h7.8M290.75 668.12v7.8M287.94 669.21l5.62 5.62M287.94 674.82l5.62 -5.62" stroke="#ff2a55" stroke-width="1.35" fill="none"/>
<path d="M348.1 670.71h7.8M352 666.81v7.8M349.19 667.9l5.62 5.62M349.19 673.52l5.62 -5.62" stroke="#ff2a55" stroke-width="1.35" fill="none"/>
<path d="M409.35 595.89h7.8M413.25 591.99v7.8M410.44 593.08l5.62 5.62M410.44 598.7l5.62 -5.62" stroke="#ff2a55" stroke-width="1.35" fill="none"/>
<path d="M470.6 544.21h7.8M474.5 540.31v7.8M471.69 541.4l5.62 5.62M471.69 547.02l5.62 -5.62" stroke="#ff2a55" stroke-width="1.35" fill="none"/>
<polyline points="229.5,656.39 290.75,645.17 352,621.6 413.25,593.06 474.5,542.01" fill="none" stroke="#2bf5a8" stroke-width="1.6" stroke-linejoin="round"/>
<path d="M225.6 656.39h7.8M229.5 652.49v7.8M226.69 653.58l5.62 5.62M226.69 659.2l5.62 -5.62" stroke="#2bf5a8" stroke-width="1.35" fill="none"/>
<path d="M286.85 645.17h7.8M290.75 641.27v7.8M287.94 642.36l5.62 5.62M287.94 647.98l5.62 -5.62" stroke="#2bf5a8" stroke-width="1.35" fill="none"/>
<path d="M348.1 621.6h7.8M352 617.7v7.8M349.19 618.79l5.62 5.62M349.19 624.41l5.62 -5.62" stroke="#2bf5a8" stroke-width="1.35" fill="none"/>
<path d="M409.35 593.06h7.8M413.25 589.16v7.8M410.44 590.26l5.62 5.62M410.44 595.87l5.62 -5.62" stroke="#2bf5a8" stroke-width="1.35" fill="none"/>
<path d="M470.6 542.01h7.8M474.5 538.11v7.8M471.69 539.2l5.62 5.62M471.69 544.81l5.62 -5.62" stroke="#2bf5a8" stroke-width="1.35" fill="none"/>
<polyline points="229.5,695.94 290.75,676.92 352,662.8 413.25,599.3 474.5,545.61" fill="none" stroke="#b516ff" stroke-width="1.6" stroke-linejoin="round"/>
<path d="M225.6 695.94h7.8M229.5 692.04v7.8M226.69 693.13l5.62 5.62M226.69 698.75l5.62 -5.62" stroke="#b516ff" stroke-width="1.35" fill="none"/>
<path d="M286.85 676.92h7.8M290.75 673.02v7.8M287.94 674.12l5.62 5.62M287.94 679.73l5.62 -5.62" stroke="#b516ff" stroke-width="1.35" fill="none"/>
<path d="M348.1 662.8h7.8M352 658.9v7.8M349.19 659.99l5.62 5.62M349.19 665.61l5.62 -5.62" stroke="#b516ff" stroke-width="1.35" fill="none"/>
<path d="M409.35 599.3h7.8M413.25 595.4v7.8M410.44 596.49l5.62 5.62M410.44 602.11l5.62 -5.62" stroke="#b516ff" stroke-width="1.35" fill="none"/>
<path d="M470.6 545.61h7.8M474.5 541.71v7.8M471.69 542.8l5.62 5.62M471.69 548.42l5.62 -5.62" stroke="#b516ff" stroke-width="1.35" fill="none"/>
<polyline points="229.5,647.37 290.75,633.85 352,623.84 413.25,585.88 474.5,538.01" fill="none" stroke="#0ad6f8" stroke-width="1.6" stroke-linejoin="round"/>
<path d="M225.6 647.37h7.8M229.5 643.47v7.8M226.69 644.57l5.62 5.62M226.69 650.18l5.62 -5.62" stroke="#0ad6f8" stroke-width="1.35" fill="none"/>
<path d="M286.85 633.85h7.8M290.75 629.95v7.8M287.94 631.05l5.62 5.62M287.94 636.66l5.62 -5.62" stroke="#0ad6f8" stroke-width="1.35" fill="none"/>
<path d="M348.1 623.84h7.8M352 619.94v7.8M349.19 621.03l5.62 5.62M349.19 626.65l5.62 -5.62" stroke="#0ad6f8" stroke-width="1.35" fill="none"/>
<path d="M409.35 585.88h7.8M413.25 581.98v7.8M410.44 583.07l5.62 5.62M410.44 588.68l5.62 -5.62" stroke="#0ad6f8" stroke-width="1.35" fill="none"/>
<path d="M470.6 538.01h7.8M474.5 534.11v7.8M471.69 535.2l5.62 5.62M471.69 540.82l5.62 -5.62" stroke="#0ad6f8" stroke-width="1.35" fill="none"/>
<polyline points="229.5,725.2 290.75,718.38 352,690.35 413.25,646.77 474.5,550.73" fill="none" stroke="#000000" stroke-width="1.6" stroke-linejoin="round"/>
<path d="M225.6 725.2h7.8M229.5 721.3v7.8M226.69 722.39l5.62 5.62M226.69 728l5.62 -5.62" stroke="#000000" stroke-width="1.35" fill="none"/>
<path d="M286.85 718.38h7.8M290.75 714.48v7.8M287.94 715.57l5.62 5.62M287.94 721.19l5.62 -5.62" stroke="#000000" stroke-width="1.35" fill="none"/>
<path d="M348.1 690.35h7.8M352 686.45v7.8M349.19 687.54l5.62 5.62M349.19 693.15l5.62 -5.62" stroke="#000000" stroke-width="1.35" fill="none"/>
<path d="M409.35 646.77h7.8M413.25 642.87v7.8M410.44 643.96l5.62 5.62M410.44 649.58l5.62 -5.62" stroke="#000000" stroke-width="1.35" fill="none"/>
<path d="M470.6 550.73h7.8M474.5 546.83v7.8M471.69 547.93l5.62 5.62M471.69 553.54l5.62 -5.62" stroke="#000000" stroke-width="1.35" fill="none"/>
<rect x="235.5" y="554" width="110.5" height="61" fill="#fff" stroke="#a8a8a8" stroke-width="1"/>
<path d="M237.5 561h23.0" stroke="#ff2a55" stroke-width="1.6"/>
<path d="M245.6 561h7.8M249.5 557.1v7.8M246.69 558.19l5.62 5.62M246.69 563.81l5.62 -5.62" stroke="#ff2a55" stroke-width="1.35" fill="none"/>
<text x="262.5" y="564.4" font-size="9.3" fill="#111">ESOA-ADRL-NLF</text>
<path d="M237.5 572.75h23.0" stroke="#2bf5a8" stroke-width="1.6"/>
<path d="M245.6 572.75h7.8M249.5 568.85v7.8M246.69 569.94l5.62 5.62M246.69 575.56l5.62 -5.62" stroke="#2bf5a8" stroke-width="1.35" fill="none"/>
<text x="262.5" y="576.15" font-size="9.3" fill="#111">CMPA-ADRL-NLF</text>
<path d="M237.5 584.5h23.0" stroke="#b516ff" stroke-width="1.6"/>
<path d="M245.6 584.5h7.8M249.5 580.6v7.8M246.69 581.69l5.62 5.62M246.69 587.31l5.62 -5.62" stroke="#b516ff" stroke-width="1.35" fill="none"/>
<text x="262.5" y="587.9" font-size="9.3" fill="#111">EVO-ADRL-NLF</text>
<path d="M237.5 596.25h23.0" stroke="#0ad6f8" stroke-width="1.6"/>
<path d="M245.6 596.25h7.8M249.5 592.35v7.8M246.69 593.44l5.62 5.62M246.69 599.06l5.62 -5.62" stroke="#0ad6f8" stroke-width="1.35" fill="none"/>
<text x="262.5" y="599.65" font-size="9.3" fill="#111">HCO-ADRL-NLF</text>
<path d="M237.5 608h23.0" stroke="#000000" stroke-width="1.6"/>
<path d="M245.6 608h7.8M249.5 604.1v7.8M246.69 605.19l5.62 5.62M246.69 610.81l5.62 -5.62" stroke="#000000" stroke-width="1.35" fill="none"/>
<text x="262.5" y="611.4" font-size="9.3" fill="#111">HEVHC-ADRL-NLF</text>
</svg>
</body></html>
